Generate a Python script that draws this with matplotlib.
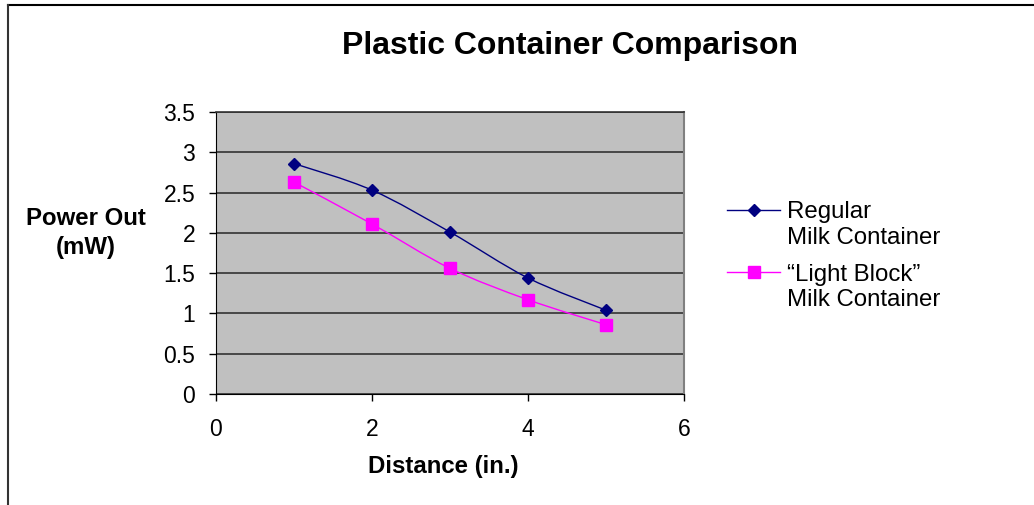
import matplotlib
matplotlib.use("Agg")
import matplotlib.pyplot as plt
from matplotlib.path import Path
from matplotlib.patches import PathPatch
from matplotlib.lines import Line2D
import numpy as np

plt.rcParams['font.family'] = ['Liberation Sans', 'DejaVu Sans']

# Data
distance = [1, 2, 3, 4, 5]
regular_power = [2.86, 2.53, 2.01, 1.44, 1.04]
light_block_power = [2.63, 2.11, 1.56, 1.17, 0.86]

title = "Plastic Container Comparison"
x_label = "Distance (in.)"
y_label = "Power Out\n(mW)"
series_labels = ["Regular\nMilk Container", "\u201cLight Block\u201d\nMilk Container"]
x_ticks = [0, 2, 4, 6]
y_ticks = [0, 0.5, 1, 1.5, 2, 2.5, 3, 3.5]

NAVY = "#000080"
MAGENTA = "#FF00FF"
W, H = 1034, 505


def smooth_path(xs, ys):
    """Bezier path through the points, with Catmull-Rom style control points."""
    pts = np.column_stack([xs, ys]).astype(float)
    n = len(pts)
    verts = [pts[0]]
    codes = [Path.MOVETO]
    for i in range(n - 1):
        p0 = pts[i - 1] if i > 0 else pts[i]
        p1 = pts[i]
        p2 = pts[i + 1]
        p3 = pts[i + 2] if i + 2 < n else pts[i + 1]
        c1 = p1 + (p2 - p0) / 6.0
        c2 = p2 - (p3 - p1) / 6.0
        verts += [c1, c2, p2]
        codes += [Path.CURVE4] * 3
    return Path(verts, codes)


def fx(px):
    return px / W


def fy(py):
    return 1 - py / H


fig = plt.figure(figsize=(W / 100, H / 100), dpi=100)
ax = fig.add_axes([fx(216), fy(394), 468 / W, 282 / H])
ax.set_facecolor("#C0C0C0")

ax.set_xlim(0, 6)
ax.set_ylim(0, 3.5)
ax.set_xticks(x_ticks)
ax.set_yticks(y_ticks)
ax.set_yticklabels([f"{v:g}" for v in y_ticks])
ax.tick_params(axis="both", direction="out", length=5, width=1, labelsize=16.5, colors="black")
ax.tick_params(axis="y", pad=10)
ax.tick_params(axis="x", pad=12)

ax.yaxis.grid(True, color="#333333", linewidth=1.2)
ax.set_axisbelow(True)
ax.spines["left"].set_color("black")
ax.spines["bottom"].set_color("black")
ax.spines["top"].set_color("#333333")
ax.spines["top"].set_linewidth(1.2)
ax.spines["right"].set_color("#808080")
ax.spines["right"].set_linewidth(1.5)

series = [
    (regular_power, NAVY, "D", 6.5),
    (light_block_power, MAGENTA, "s", 8.0),
]

# Smoothed series lines with markers at the measured points
for ys, col, mk, ms in series:
    ax.add_patch(PathPatch(smooth_path(distance, ys), facecolor="none",
                           edgecolor=col, linewidth=1.0, zorder=3))
    ax.plot(distance, ys, linestyle="none", marker=mk, markersize=ms,
            color=col, zorder=4)

# Legend: sample line aligned with the first line of each label
legend_rows = [210, 272]
for (ys, col, mk, ms), label, row in zip(series, series_labels, legend_rows):
    fig.add_artist(Line2D([fx(727), fx(780)], [fy(row), fy(row)],
                          transform=fig.transFigure, color=col, linewidth=1.0))
    fig.add_artist(Line2D([fx(753.5)], [fy(row)], transform=fig.transFigure,
                          color=col, marker=mk, markersize=ms, linestyle="none"))
    first, second = label.split("\n")
    fig.text(fx(787), fy(row), first, ha="left", va="center_baseline", fontsize=17.3)
    fig.text(fx(787), fy(row + 25.5), second, ha="left", va="center_baseline", fontsize=17.3)

fig.text(fx(569.5), fy(46), title, ha="center", va="center",
         fontsize=23, fontweight="bold")
fig.text(fx(443), fy(467), x_label, ha="center", va="center",
         fontsize=17.3, fontweight="bold")
fig.text(fx(86), fy(233), y_label, ha="center", va="center",
         fontsize=17.3, fontweight="bold", linespacing=1.32)

# Chart frame (top and left edges)
fig.add_artist(Line2D([fx(7.5), 1.0], [fy(4.5), fy(4.5)],
                      transform=fig.transFigure, color="black", linewidth=1.5))
fig.add_artist(Line2D([fx(7.5), fx(7.5)], [0.0, fy(4.5)],
                      transform=fig.transFigure, color="#333333", linewidth=1.5))

fig.savefig("out.png", dpi=100)
